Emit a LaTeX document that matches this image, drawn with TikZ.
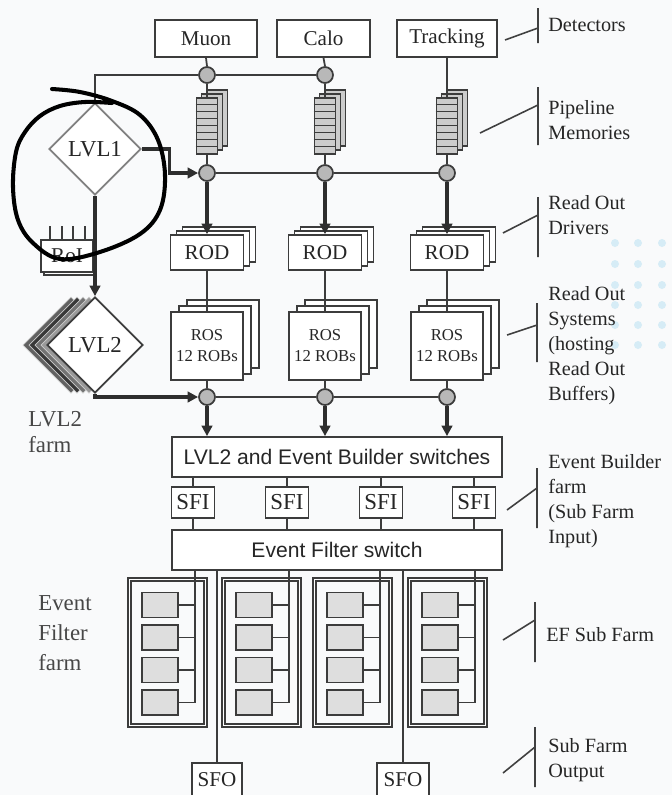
\documentclass[tikz,border=0pt]{standalone}
\usepackage{fontspec}
\setmainfont{Liberation Serif}
\newfontfamily\swfont{Liberation Sans}
\usetikzlibrary{arrows.meta,positioning,shapes.geometric,shadows}
\definecolor{ink}{RGB}{60,60,60}
\definecolor{txt}{RGB}{38,38,38}
\definecolor{paper}{RGB}{249,250,251}
\definecolor{dotblue}{RGB}{214,236,246}

\begin{document}
\begin{tikzpicture}[x=0.02cm,y=-0.02cm,
  every node/.style={font=\fontsize{12}{14}\selectfont,text=txt,inner sep=0pt},
  ln/.style={draw=ink,line width=1pt},
  thk/.style={draw=black!82,line width=1.8pt,-{Triangle[length=6pt,width=6pt]}},
  tag/.style={draw=black!75,line width=0.9pt},
  box/.style={rectangle,draw=ink,line width=1pt,fill=white},
  tap/.style={circle,draw=ink,line width=1pt,fill=black!28,minimum size=0.32cm},
  pipe/.style={box,fill=black!20,minimum width=0.42cm,minimum height=1.12cm,
    double copy shadow={shadow xshift=0.1cm,shadow yshift=0.08cm}},
  rod/.style={box,minimum width=1.46cm,minimum height=0.7cm,
    double copy shadow={shadow xshift=0.12cm,shadow yshift=0.08cm}},
  ros/.style={box,minimum width=1.44cm,minimum height=1.36cm,align=center,
    font=\fontsize{9.5}{12}\selectfont,
    double copy shadow={shadow xshift=0.16cm,shadow yshift=0.12cm}},
  dia/.style={diamond,draw=black!50,line width=1pt,fill=white,
    font=\fontsize{13}{15}\selectfont},
  switchbox/.style={box,minimum width=6.6cm,minimum height=0.8cm,font=\swfont\fontsize{12}{14}\selectfont},
  farm/.style={draw=ink,line width=0.75pt,double,double distance=0.035cm,
    minimum width=1.52cm,minimum height=2.92cm},
  worker/.style={draw=ink,line width=0.75pt,fill=black!13,minimum width=0.72cm,minimum height=0.5cm},
  lbl/.style={anchor=west,align=left,font=\fontsize{11.5}{14.2}\selectfont},
  farmlbl/.style={anchor=west,align=left,text=black!72,font=\fontsize{13}{16}\selectfont}]
\useasboundingbox (0,0) rectangle (672,795);
\fill[paper] (0,0) rectangle (672,795);
\foreach \dx in {615,638,662}
  \foreach \dy in {243,264,285,305,325,345}
    \fill[dotblue] (\dx,\dy) circle (4);

% detectors
\node[box,minimum width=2.04cm,minimum height=0.74cm] (muon) at (206,38.5) {Muon};
\node[box,minimum width=1.86cm,minimum height=0.74cm] (calo) at (323.5,38.5) {Calo};
\node[box,minimum width=2.0cm,minimum height=0.74cm] (track) at (447,38.5) {Tracking};

% taps and pipelines
\node[tap] (c1m) at (207,75) {};
\node[tap] (c1c) at (325,75) {};
\node[pipe] (pm) at (207,126) {};
\node[pipe] (pc) at (325,126) {};
\node[pipe] (pt) at (447,126) {};
\foreach \p in {pm,pc,pt}
  \foreach \s in {1,...,7}
    \draw[ink,line width=0.6pt] ([yshift=-\s*0.14cm]\p.north west) -- ([yshift=-\s*0.14cm]\p.north east);
\node[tap] (c2m) at (207,173) {};
\node[tap] (c2c) at (325,173) {};
\node[tap] (c2t) at (447,173) {};

\draw[ln] (muon.south) -- (c1m.north);
\draw[ln] (c1m.south) -- (pm.north);
\draw[ln] (pm.south) -- (c2m.north);
\draw[ln] (calo.south) -- (c1c.north);
\draw[ln] (c1c.south) -- (pc.north);
\draw[ln] (pc.south) -- (c2c.north);
\draw[ln] (track.south) -- (pt.north);
\draw[ln] (pt.south) -- (c2t.north);
\draw[ln] (c1m.east) -- (c1c.west);
\draw[ln] (c2m.east) -- (c2c.west);
\draw[ln] (c2c.east) -- (c2t.west);

% level 1
\node[dia,minimum width=1.84cm,minimum height=1.84cm] (l1) at (95,149) {LVL1};
\draw[ln] (l1.north) |- (c1m.west);
\draw[thk] (l1.east) -- ++(28,0) |- (c2m.west);
\node[box,minimum width=1.04cm,minimum height=0.64cm,
  copy shadow={shadow xshift=0.06cm,shadow yshift=-0.06cm}] (roi) at (67,256) {RoI};
\foreach \tx in {50,62,73,85}
  \draw[ln] (\tx,240) -- (\tx,226);

% read out drivers and systems
\node[rod] (rodm) at (207,252.5) {ROD};
\node[rod] (rodc) at (325,252.5) {ROD};
\node[rod] (rodt) at (447,252.5) {ROD};
\node[ros] (rosm) at (207,346) {ROS\\12 ROBs};
\node[ros] (rosc) at (325,346) {ROS\\12 ROBs};
\node[ros] (rost) at (447,346) {ROS\\12 ROBs};
\node[tap] (c3m) at (207,397) {};
\node[tap] (c3c) at (325,397) {};
\node[tap] (c3t) at (447,397) {};
\foreach \c in {m,c,t} {
  \draw[thk] (c2\c.south) -- (rod\c.north);
  \draw[ln] (rod\c.south) -- (ros\c.north);
  \draw[ln] (ros\c.south) -- (c3\c.north);
}
\draw[ln] (c3m.east) -- (c3c.west);
\draw[ln] (c3c.east) -- (c3t.west);

% level 2
\foreach \o/\sh in {24/black!62,18/black!78,12/black!55,6/black!40}
  \filldraw[fill=\sh,draw=black!20,line width=0.4pt]
    (95-\o-48,345) -- (95-\o,297) -- (95-\o+48,345) -- (95-\o,393) -- cycle;
\node[dia,draw=ink,minimum width=1.92cm,minimum height=1.92cm] (l2) at (95,345) {LVL2};
\draw[thk] (l1.south) -- (l2.north);
\draw[thk] (l2.south) |- (c3m.west);
\node[farmlbl,font=\fontsize{13}{15.3}\selectfont] (l2farm) at (28,432) {LVL2\\farm};

% event builder
\node[switchbox] (sw1) at (337,457) {LVL2 and Event Builder switches};
\foreach \c in {m,c,t}
  \draw[thk] (c3\c.south) -- (c3\c |- sw1.north);
\node[box,minimum width=0.86cm,minimum height=0.62cm,font=\fontsize{13}{15}\selectfont] (sfi1) at (193,502.5) {SFI};
\node[box,minimum width=0.86cm,minimum height=0.62cm,font=\fontsize{13}{15}\selectfont] (sfi2) at (287,502.5) {SFI};
\node[box,minimum width=0.86cm,minimum height=0.62cm,font=\fontsize{13}{15}\selectfont] (sfi3) at (381,502.5) {SFI};
\node[box,minimum width=0.86cm,minimum height=0.62cm,font=\fontsize{13}{15}\selectfont] (sfi4) at (474,502.5) {SFI};
\node[switchbox] (sw2) at (337,550) {Event Filter switch};
\foreach \i in {1,...,4} {
  \draw[ln] (sfi\i |- sw1.south) -- (sfi\i.north);
  \draw[ln] (sfi\i.south) -- (sfi\i |- sw2.north);
}

% event filter farm
\foreach \k/\cx/\wx/\bx in {1/167.5/160/195,2/261.5/254/289,3/352.5/345/380,4/447.5/440/475} {
  \node[farm] (f\k) at (\cx,652.5) {};
  \coordinate (b\k) at (\bx,702.5);
  \draw[ln,line width=1.1pt] (b\k |- sw2.south) -- (b\k);
  \foreach \j/\wy in {1/605,2/637.5,3/670,4/702.5} {
    \node[worker] (w\k\j) at (\wx,\wy) {};
    \draw[ln,line width=0.8pt] (w\k\j.east) -- (b\k |- w\k\j.east);
  }
}
\node[box,minimum width=1.0cm,minimum height=0.68cm] (sfo1) at (217,780) {SFO};
\node[box,minimum width=1.04cm,minimum height=0.68cm] (sfo2) at (403,780) {SFO};
\draw[ln] (sfo1 |- sw2.south) -- (sfo1.north);
\draw[ln] (sfo2 |- sw2.south) -- (sfo2.north);
\node[farmlbl,font=\fontsize{13}{17}\selectfont] (eflbl) at (38,633) {Event\\Filter\\farm};

% right hand labels
\draw[tag] (538,8) -- (538,43) (505,40) -- (538,28);
\node[lbl] (t1) at (548,25) {Detectors};
\draw[tag] (538,87) -- (538,145) (480,133) -- (538,105);
\node[lbl] (t2) at (548,120) {Pipeline\\Memories};
\draw[tag] (538,197) -- (538,257) (503,233) -- (538,215);
\node[lbl] (t3) at (548,215) {Read Out\\Drivers};
\draw[tag] (537,303) -- (537,362) (507,335) -- (537,325);
\node[lbl] (t4) at (548,346) {Read Out\\Systems\\(hosting\\Read Out\\Buffers)};
\draw[tag] (537,468) -- (537,528) (507,510) -- (537,488);
\node[lbl] (t5) at (548,501) {Event Builder\\farm\\(Sub Farm\\Input)};
\draw[tag] (535,602) -- (535,662) (503,640) -- (535,620);
\node[lbl] (t6) at (546,635) {EF Sub Farm};
\draw[tag] (535,727) -- (535,787) (503,773) -- (535,747);
\node[lbl] (t7) at (548,760) {Sub Farm\\Output};

% hand drawn ring
\draw[black,line width=2.3pt,line cap=round] plot[smooth,tension=0.6] coordinates {
  (52,89) (80,92) (112,101) (140,115) (158,140) (165,175) (160,210) (140,234)
  (100,252) (60,259) (33,243) (18,220) (13,187) (16,152) (25,132) (40,116)
  (60,106) (85,102) (112,103)};
\end{tikzpicture}
\end{document}
